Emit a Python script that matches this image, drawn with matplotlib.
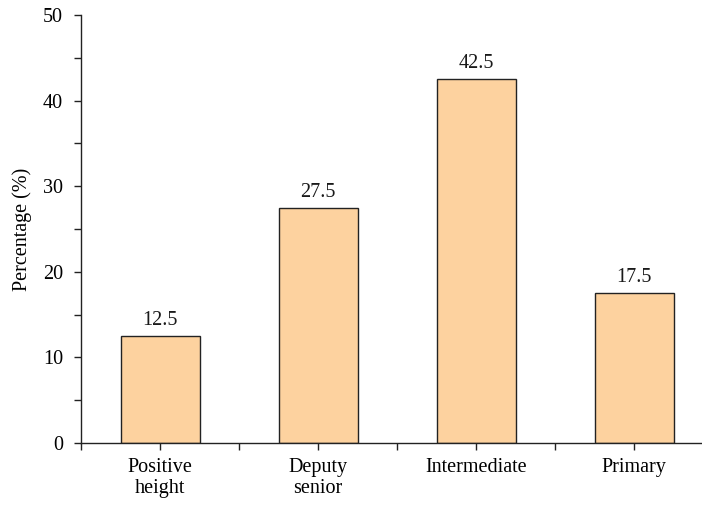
import matplotlib
matplotlib.use("Agg")
import matplotlib.pyplot as plt
from matplotlib.ticker import MultipleLocator, FixedLocator

categories = ["Positive\nheight", "Deputy\nsenior", "Intermediate", "Primary"]
values = [12.5, 27.5, 42.5, 17.5]

plt.rcParams['font.family'] = ['Liberation Serif', 'DejaVu Serif']
FS = 14.5

fig = plt.figure(figsize=(7.02, 5.09), dpi=100)
ax = fig.add_axes([81/702, 66/509, 632/702, 428/509])

x = list(range(len(categories)))
bars = ax.bar(x, values, width=0.5, color='#FDD29F', edgecolor='#222222', linewidth=1.0, zorder=2)
for xi, v in zip(x, values):
    ax.text(xi, v + 0.7, f"{v}", ha='center', va='bottom', fontsize=FS, color='#1a1a1a')

ax.set_xlim(-0.5, 3.5)
ax.set_ylim(0, 50)
ax.yaxis.set_major_locator(MultipleLocator(10))
ax.yaxis.set_minor_locator(MultipleLocator(5))
ax.set_xticks(x)
ax.set_xticklabels(categories, fontsize=FS, linespacing=1.1)
ax.xaxis.set_minor_locator(FixedLocator([-0.5, 0.5, 1.5, 2.5, 3.5]))
ax.tick_params(axis='both', which='both', direction='out', length=5, width=1.0, color='#222222')
ax.tick_params(axis='y', labelsize=FS, pad=8)
ax.tick_params(axis='x', pad=6)
for s in ['top', 'right']:
    ax.spines[s].set_visible(False)
for s in ['left', 'bottom']:
    ax.spines[s].set_color('#222222')
    ax.spines[s].set_linewidth(1.0)
ax.spines['left'].set_bounds(0, 50)
ax.set_ylabel("Percentage (%)", fontsize=FS, labelpad=8)

fig.savefig("out.png", dpi=100)
